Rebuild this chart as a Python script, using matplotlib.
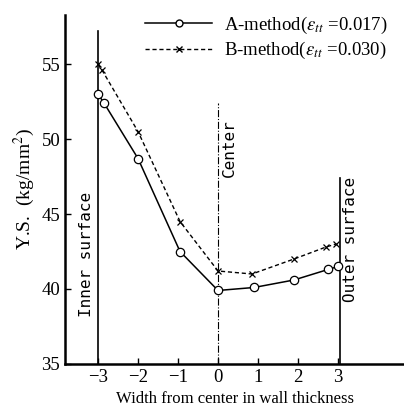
import matplotlib
matplotlib.use('Agg')
import matplotlib.pyplot as plt
from matplotlib.lines import Line2D

# data
x_a = [-3.0, -2.85, -2.0, -0.95, 0.0, 0.9, 1.9, 2.75, 3.0]
ys_a = [53.0, 52.4, 48.7, 42.5, 39.9, 40.1, 40.6, 41.3, 41.5]
x_b = [-3.0, -2.9, -2.0, -0.95, 0.0, 0.85, 1.9, 2.7, 2.95]
ys_b = [55.0, 54.6, 50.5, 44.5, 41.2, 41.0, 42.0, 42.8, 43.0]
xticks = [-3, -2, -1, 0, 1, 2, 3]
yticks = [35, 40, 45, 50, 55]
label_a = r'A-method($\varepsilon_{tt}$ =0.017)'
label_b = r'B-method($\varepsilon_{tt}$ =0.030)'

plt.rcParams['font.family'] = ['Liberation Serif', 'DejaVu Serif']
plt.rcParams['mathtext.fontset'] = 'stix'

fig = plt.figure(figsize=(4.04, 4.08), dpi=100)
ax = fig.add_axes([0.161, 0.108, 0.839, 0.855])

ax.plot(x_a, ys_a, '-', color='black', lw=1.1, marker='o', ms=6,
        mfc='white', mec='black', mew=0.9, zorder=3)
ax.plot(x_b, ys_b, '--', color='black', lw=1.0, dashes=(3, 2), marker='x',
        ms=5, mew=0.9, zorder=3)

# reference lines
ax.plot([-3, -3], [35, 57.2], color='black', lw=1.2)
ax.plot([0, 0], [35, 52.4], color='black', lw=0.8, ls='-.')
ax.plot([3.05, 3.05], [35, 47.4], color='black', lw=1.2)

ax.text(-3.3, 42.3, 'Inner surface', rotation=90, ha='center', va='center',
        fontsize=11.5, family='DejaVu Sans Mono')
ax.text(0.28, 49.4, 'Center', rotation=90, ha='center', va='center',
        fontsize=11.5, family='DejaVu Sans Mono')
ax.text(3.3, 43.3, 'Outer surface', rotation=90, ha='center', va='center',
        fontsize=11.5, family='DejaVu Sans Mono')

ax.set_xlim(-3.825, 4.65)
ax.set_ylim(35, 58.27)
ax.set_xticks(xticks)
ax.set_xticklabels(['\u22123', '\u22122', '\u22121', '0', '1', '2', '3'])
ax.set_yticks(yticks)
ax.tick_params(direction='in', length=4, labelsize=13.5, width=1)
for side in ['top', 'right']:
    ax.spines[side].set_visible(False)
ax.spines['left'].set_linewidth(1.8)
ax.spines['bottom'].set_linewidth(1.8)

ax.set_ylabel('Y.S.  (kg/mm$^2$)', fontsize=14, labelpad=3)
ax.set_xlabel('Width from center in wall thickness', fontsize=12, labelpad=4)

handles = [Line2D([], [], color='black', lw=1.1, marker='o', ms=5,
                  mfc='white', mec='black'),
           Line2D([], [], color='black', lw=1.0, dashes=(3, 2), marker='x',
                  ms=4)]
ax.legend(handles, [label_a, label_b], loc='upper right', frameon=False,
          fontsize=13.5, handlelength=3.6, handletextpad=0.6,
          bbox_to_anchor=(1.0, 1.05), labelspacing=0.25)

plt.savefig('out.png', dpi=100)
